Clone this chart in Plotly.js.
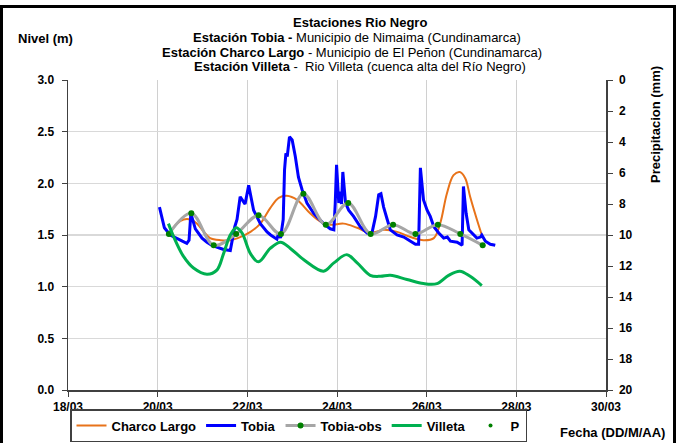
<!DOCTYPE html>
<html>
<head>
<meta charset="utf-8">
<script src="https://cdn.plot.ly/plotly-3.0.1.min.js"></script>
<style>
  html, body { margin: 0; padding: 0; background: #fff; overflow: hidden; }
  #wrap { position: relative; width: 679px; height: 443px; overflow: hidden; }
  #chart { position: absolute; left: 0; top: 0; width: 679px; height: 443px; }
  #frame { position: absolute; left: 0px; top: 5px; width: 676px; height: 445px; border: 3px solid #000; box-sizing: border-box; pointer-events: none; }
</style>
</head>
<body>
<div id="wrap"><div id="chart"></div><div id="frame"></div></div>
<script>
// ---- Data (day of March, fractional) ----
const tickDays = [18, 20, 22, 24, 26, 28, 30];
const tickLabels = ["18/03", "20/03", "22/03", "24/03", "26/03", "28/03", "30/03"];

const tobiaX = [20.04,20.10,20.15,20.28,20.40,20.55,20.65,20.70,20.74,20.79,20.84,20.99,21.10,21.21,21.35,21.47,21.62,21.66,21.72,21.77,21.84,21.90,21.95,22.03,22.08,22.14,22.29,22.44,22.52,22.59,22.66,22.70,22.74,22.80,22.83,22.86,22.89,22.94,23.00,23.07,23.14,23.22,23.33,23.48,23.70,23.85,23.93,23.96,23.99,24.04,24.07,24.10,24.13,24.19,24.26,24.37,24.52,24.67,24.78,24.86,24.93,24.98,25.04,25.12,25.19,25.34,25.49,25.64,25.75,25.82,25.86,25.93,26.01,26.08,26.16,26.27,26.38,26.46,26.53,26.68,26.79,26.82,26.88,26.94,27.05,27.12,27.20,27.23,27.31,27.42,27.53];
const tobiaY = [1.77,1.65,1.57,1.50,1.47,1.44,1.42,1.45,1.71,1.62,1.56,1.47,1.43,1.40,1.38,1.36,1.35,1.45,1.58,1.65,1.87,1.83,1.80,1.98,1.88,1.74,1.61,1.53,1.50,1.48,1.46,1.52,1.47,1.65,2.13,2.29,2.26,2.45,2.42,2.26,2.06,1.94,1.81,1.71,1.61,1.56,1.55,1.80,2.18,1.81,1.92,1.80,2.11,1.81,1.74,1.68,1.58,1.52,1.52,1.68,1.89,1.90,1.77,1.65,1.55,1.50,1.48,1.44,1.41,1.41,2.15,1.84,1.74,1.68,1.58,1.52,1.47,1.48,1.44,1.43,1.40,1.97,1.71,1.55,1.50,1.47,1.48,1.50,1.44,1.41,1.40];

const charcoX = [20.28,20.43,20.58,20.73,20.88,21.03,21.17,21.40,21.62,21.84,22.07,22.29,22.51,22.70,22.88,23.11,23.40,23.63,23.85,24.15,24.45,24.74,25.04,25.34,25.64,25.93,26.16,26.30,26.45,26.60,26.74,26.86,26.97,27.12,27.23];
const charcoY = [1.53,1.61,1.65,1.65,1.61,1.53,1.47,1.45,1.45,1.48,1.53,1.61,1.76,1.86,1.88,1.84,1.71,1.63,1.60,1.61,1.57,1.52,1.55,1.53,1.48,1.45,1.47,1.61,1.90,2.08,2.11,2.05,1.87,1.65,1.50];

const obsX = [20.25,20.75,21.25,21.75,22.25,22.75,23.25,23.75,24.25,24.75,25.25,25.75,26.25,26.75,27.25];
const obsY = [1.51,1.71,1.40,1.51,1.69,1.51,1.90,1.60,1.81,1.51,1.60,1.51,1.60,1.51,1.40];

const villetaX = [20.24,20.36,20.58,20.80,21.10,21.32,21.47,21.62,21.75,21.88,22.07,22.25,22.51,22.74,22.96,23.26,23.70,23.93,24.22,24.45,24.74,24.97,25.19,25.56,25.93,26.23,26.49,26.74,26.97,27.23];
const villetaY = [1.61,1.48,1.29,1.18,1.12,1.16,1.32,1.50,1.57,1.52,1.32,1.24,1.37,1.43,1.37,1.26,1.15,1.23,1.31,1.23,1.11,1.10,1.11,1.07,1.03,1.03,1.11,1.15,1.10,1.01];

// Precipitation: no readable values in the picture (series is empty)
const precipX = [20.0];
const precipY = [null];

// ---- Styling ----
const FONT = "Liberation Sans, Arial, sans-serif";
const bold = (size) => ({family: FONT, size: size, color: "#000", weight: "bold"});

const traces = [
  {x: charcoX, y: charcoY, name: "Charco Largo", mode: "lines", type: "scatter",
   line: {color: "#E8731A", width: 2, shape: "spline", smoothing: 1}},
  {x: tobiaX, y: tobiaY, name: "Tobia", mode: "lines", type: "scatter",
   line: {color: "#0000FF", width: 3}},
  {x: obsX, y: obsY, name: "Tobia-obs", mode: "lines+markers", type: "scatter",
   line: {color: "#A6A6A6", width: 3, shape: "spline", smoothing: 1},
   marker: {color: "#008000", size: 6}},
  {x: villetaX, y: villetaY, name: "Villeta", mode: "lines", type: "scatter",
   line: {color: "#00B050", width: 3, shape: "spline", smoothing: 1}},
  {x: precipX, y: precipY, name: "P", mode: "markers", type: "scatter", yaxis: "y2",
   marker: {color: "#008000", size: 4}}
];

const py = (pix) => (390 - pix) / 310; // pixel y -> paper y
const px = (pix) => (pix - 68) / 538;  // pixel x -> paper x

const layout = {
  width: 679, height: 443,
  margin: {l: 68, r: 73, t: 80, b: 53, pad: 0, autoexpand: false},
  paper_bgcolor: "#fff", plot_bgcolor: "#fff",
  showlegend: true,
  font: {family: FONT, size: 12, color: "#000"},
  xaxis: {
    range: [18, 30], tickvals: tickDays, ticktext: tickLabels,
    showgrid: true, gridcolor: "#d0d0d0", gridwidth: 1,
    zeroline: false, showline: true, linecolor: "#404040", linewidth: 1.5,
    ticks: "outside", ticklen: 5, tickcolor: "#404040",
    tickfont: bold(12)
  },
  yaxis: {
    range: [0, 3], dtick: 0.5, tickformat: ".1f",
    showgrid: true, gridcolor: "#d9d9d9", gridwidth: 1.5,
    zeroline: false, showline: true, linecolor: "#404040", linewidth: 1.5,
    ticks: "outside", ticklen: 5, tickcolor: "#404040", ticklabelstandoff: 5,
    tickfont: bold(12)
  },
  yaxis2: {
    overlaying: "y", side: "right", range: [20, 0], dtick: 2,
    showgrid: false, zeroline: false, showline: true, linecolor: "#404040", linewidth: 1.5,
    ticks: "outside", ticklen: 5, tickcolor: "#404040", ticklabelstandoff: 4,
    tickfont: bold(12)
  },
  legend: {
    orientation: "h", x: px(70), y: py(442), xanchor: "left", yanchor: "bottom",
    bordercolor: "#404040", borderwidth: 1.5, bgcolor: "#fff",
    font: bold(13), itemwidth: 30, tracegroupgap: 0, valign: "middle"
  },
  annotations: [
    {text: "<b>Estaciones Rio Negro</b>", xref: "paper", yref: "paper", x: px(360), y: py(22), xanchor: "center", yanchor: "middle", showarrow: false, font: {family: FONT, size: 13}},
    {text: "<b>Estación Tobia - </b>Municipio de Nimaima (Cundinamarca)", xref: "paper", yref: "paper", x: px(357), y: py(37), xanchor: "center", yanchor: "middle", showarrow: false, font: {family: FONT, size: 13}},
    {text: "<b>Estación Charco Largo</b> - Municipio de El Peñon (Cundinamarca)", xref: "paper", yref: "paper", x: px(352), y: py(52), xanchor: "center", yanchor: "middle", showarrow: false, font: {family: FONT, size: 13}},
    {text: "<b>Estación Villeta</b> -  Rio Villeta (cuenca alta del Río Negro)", xref: "paper", yref: "paper", x: px(360), y: py(67), xanchor: "center", yanchor: "middle", showarrow: false, font: {family: FONT, size: 13}},
    {text: "<b>Nivel (m)</b>", xref: "paper", yref: "paper", x: px(16), y: py(39), xanchor: "left", yanchor: "middle", showarrow: false, font: {family: FONT, size: 13}},
    {text: "<b>Precipitacion (mm)</b>", xref: "paper", yref: "paper", x: px(655), y: py(125), xanchor: "center", yanchor: "middle", textangle: -90, showarrow: false, font: {family: FONT, size: 13}},
    {text: "<b>Fecha (DD/M/AA)</b>", xref: "paper", yref: "paper", x: px(667), y: py(432), xanchor: "right", yanchor: "middle", showarrow: false, font: {family: FONT, size: 13}}
  ]
};

Plotly.newPlot("chart", traces, layout, {staticPlot: true, displayModeBar: false});
</script>
</body>
</html>
